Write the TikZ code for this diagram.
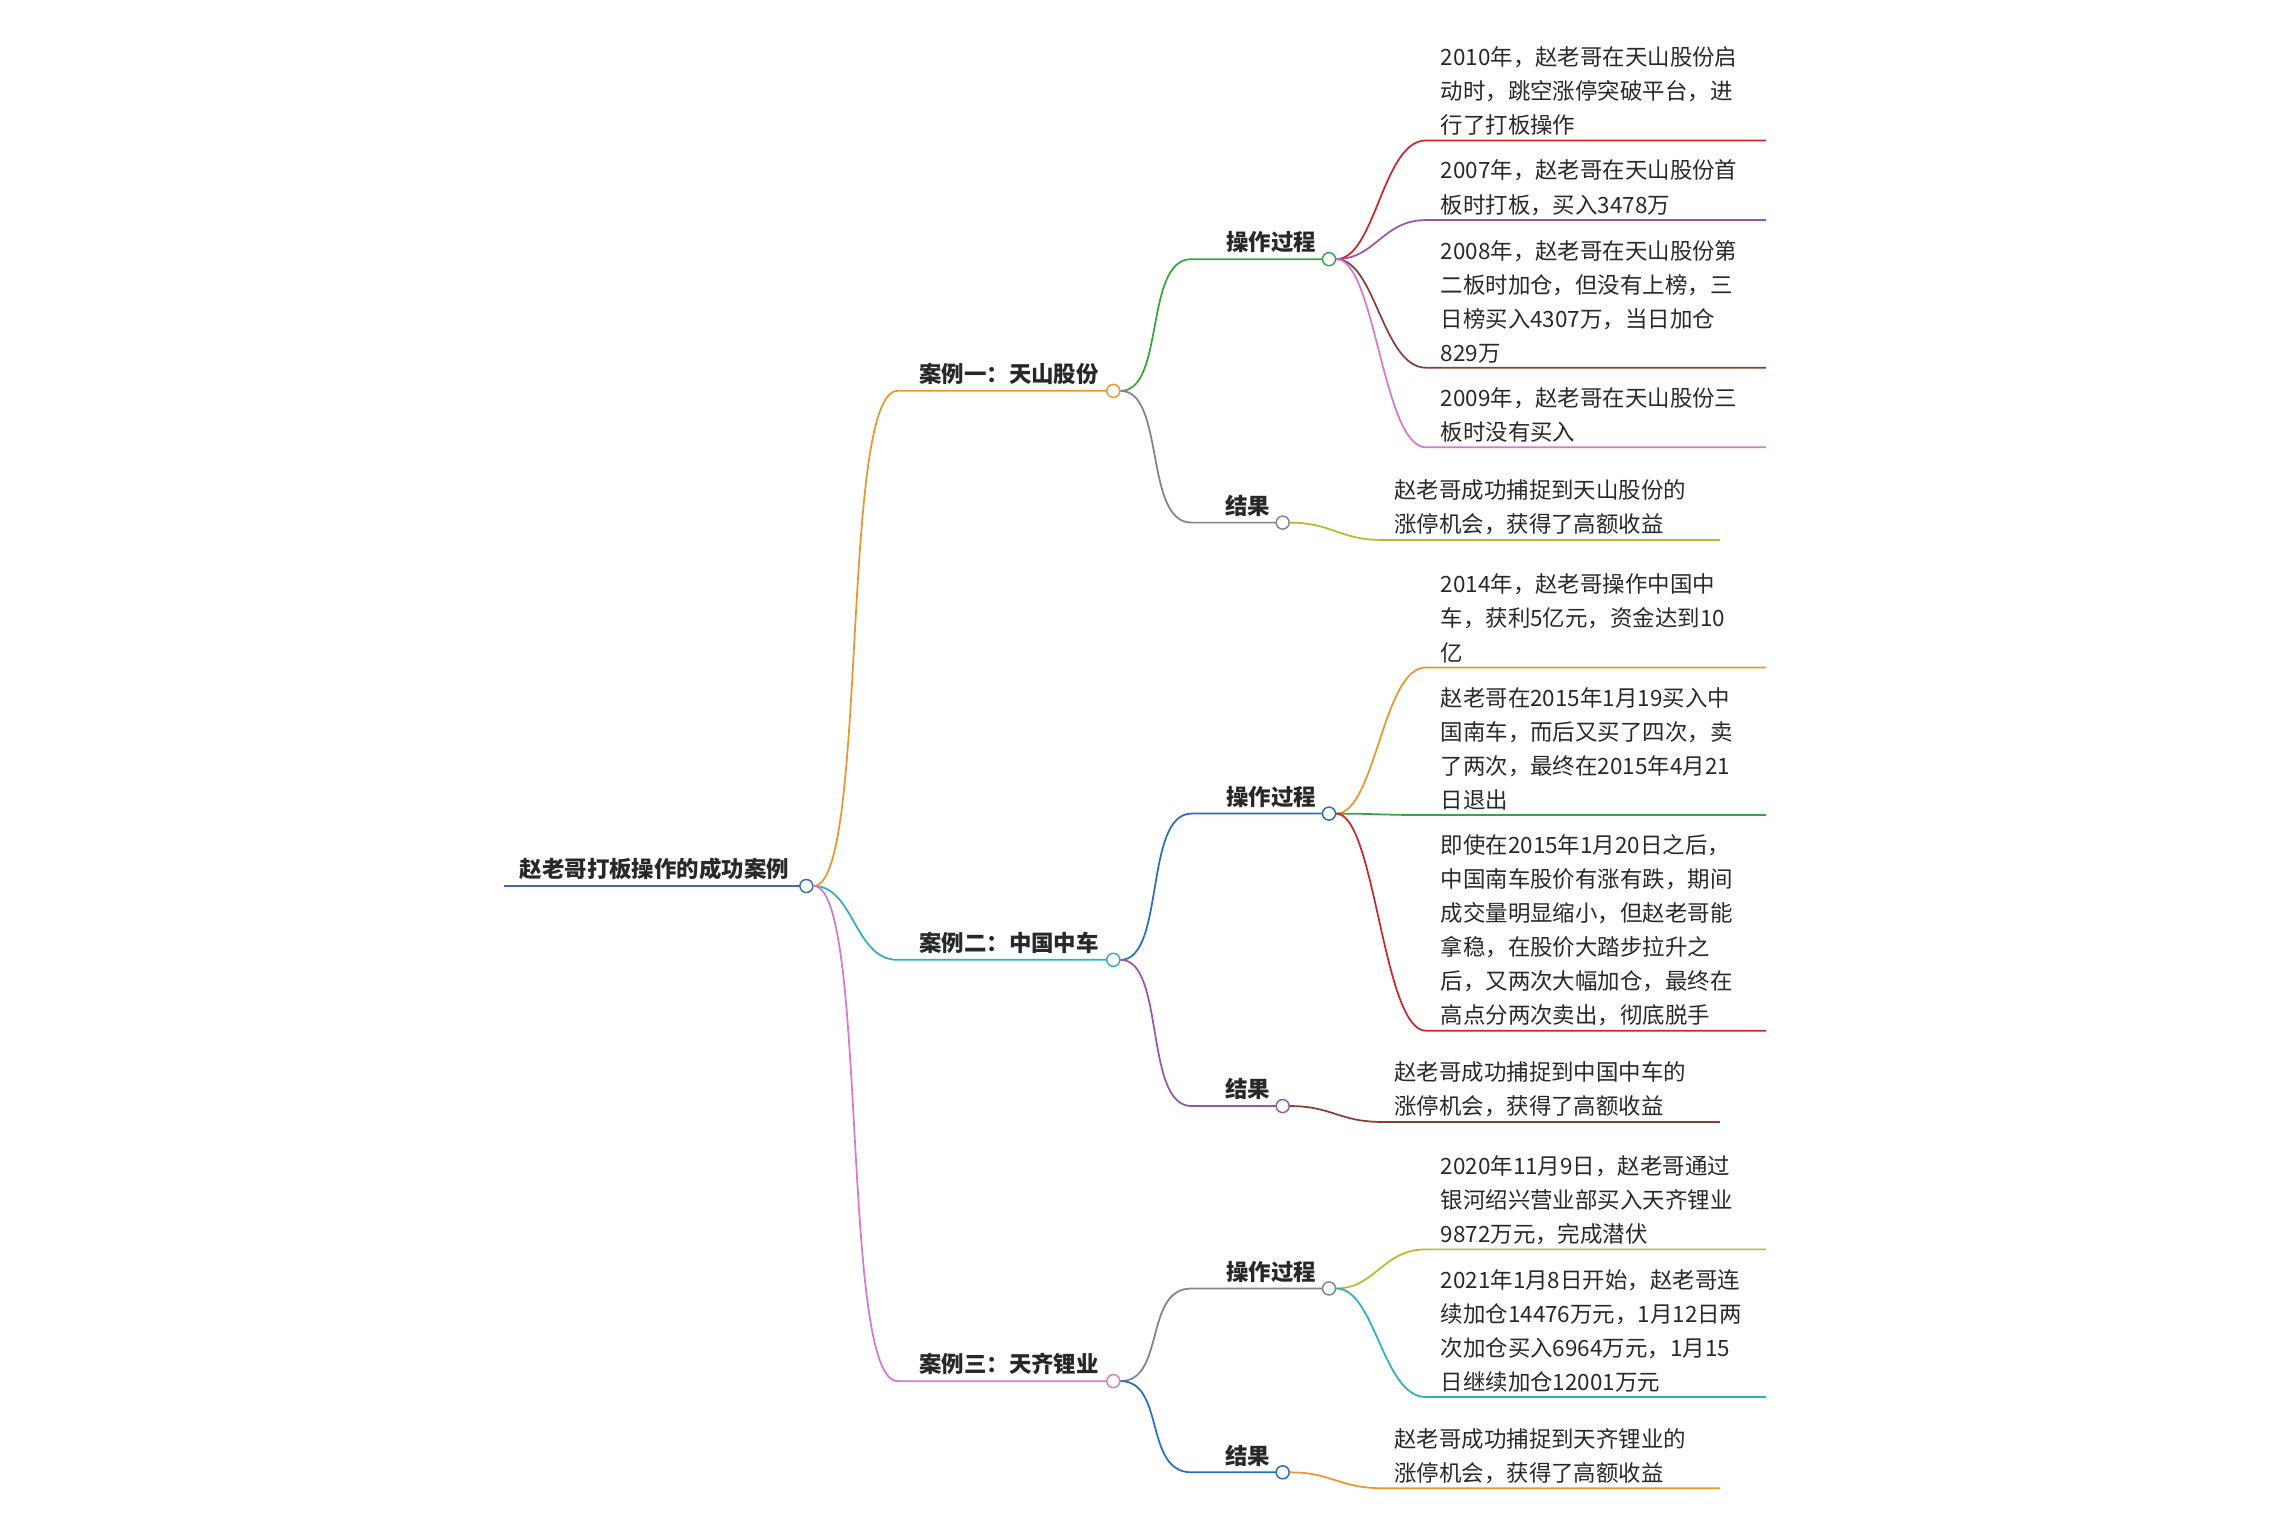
\documentclass[tikz,border=0pt]{standalone}
\usepackage{fontspec}
\setmainfont{Noto Sans CJK SC}
\definecolor{corange}{RGB}{235,150,45}
\definecolor{cteal}{RGB}{45,175,195}
\definecolor{cpink}{RGB}{215,120,205}
\definecolor{cgreen}{RGB}{55,165,60}
\definecolor{cgrey}{RGB}{130,130,140}
\definecolor{cred}{RGB}{200,40,45}
\definecolor{cpurple}{RGB}{150,85,175}
\definecolor{cbrown}{RGB}{140,60,55}
\definecolor{colive}{RGB}{185,185,45}
\definecolor{cblue}{RGB}{40,110,190}
\definecolor{croot}{RGB}{60,110,170}
\definecolor{ctxt}{RGB}{40,40,40}
\tikzset{
  dot/.style={circle,draw,fill=white,inner sep=0pt,minimum size=9pt,line width=1pt},
  leaf/.style={anchor=south west,inner sep=0pt,align=left,text=ctxt,
    font=\fontsize{15.5}{23.5}\selectfont},
  head/.style={anchor=south,inner sep=0pt,text=ctxt,
    font=\fontsize{15.5}{18}\selectfont\bfseries},
  link/.style={line width=1.2pt},
}
\begin{document}
\begin{tikzpicture}[x=1pt,y=-1pt]
\useasboundingbox (0,0) rectangle (1568,1059);

% root
\node[head] (root) at (452,608) {赵老哥打板操作的成功案例};
\draw[link,croot] (348,612) -- (557,612);
\node[dot,draw=croot] (r) at (557,612) {};

% cases
\node[head] (case1) at (697,266) {案例一：天山股份};
\node[head] (case2) at (697,659) {案例二：中国中车};
\node[head] (case3) at (697,950) {案例三：天齐锂业};
\coordinate (c1s) at (620,270); \coordinate (c2s) at (620,663); \coordinate (c3s) at (620,954);
\draw[link,corange] (r) .. controls (600,612) and (580,270) .. (c1s) -- (769,270);
\draw[link,cteal] (r) .. controls (590,612) and (590,663) .. (c2s) -- (769,663);
\draw[link,cpink] (r) .. controls (600,612) and (580,954) .. (c3s) -- (769,954);
\node[dot,draw=corange] (c1) at (769,270) {};
\node[dot,draw=cteal] (c2) at (769,663) {};
\node[dot,draw=cpink] (c3) at (769,954) {};

% sub heads
\node[head] (op1) at (878,175) {操作过程};
\node[head] (res1) at (862,357) {结果};
\node[head] (op2) at (878,558) {操作过程};
\node[head] (res2) at (862,760) {结果};
\node[head] (op3) at (878,886) {操作过程};
\node[head] (res3) at (862,1013) {结果};
\coordinate (o1s) at (823,179); \coordinate (r1s) at (823,361);
\coordinate (o2s) at (823,562); \coordinate (r2s) at (823,764);
\coordinate (o3s) at (823,890); \coordinate (r3s) at (823,1017);
\draw[link,cgreen] (c1) .. controls (805,270) and (790,179) .. (o1s) -- (918,179);
\draw[link,cgrey] (c1) .. controls (805,270) and (790,361) .. (r1s) -- (886,361);
\draw[link,cblue] (c2) .. controls (805,663) and (790,562) .. (o2s) -- (918,562);
\draw[link,cpurple] (c2) .. controls (805,663) and (790,764) .. (r2s) -- (886,764);
\draw[link,cgrey] (c3) .. controls (805,954) and (790,890) .. (o3s) -- (918,890);
\draw[link,cblue] (c3) .. controls (805,954) and (790,1017) .. (r3s) -- (886,1017);
\node[dot,draw=cgreen] (o1) at (918,179) {};
\node[dot,draw=cgrey] (r1) at (886,361) {};
\node[dot,draw=cblue] (o2) at (918,562) {};
\node[dot,draw=cpurple] (r2) at (886,764) {};
\node[dot,draw=cgrey] (o3) at (918,890) {};
\node[dot,draw=cblue] (r3) at (886,1017) {};

% leaves of case 1
\node[leaf] (l11) at (995,94) {2010年，赵老哥在天山股份启\\动时，跳空涨停突破平台，进\\行了打板操作};
\node[leaf] (l12) at (995,149) {2007年，赵老哥在天山股份首\\板时打板，买入3478万};
\node[leaf] (l13) at (995,251) {2008年，赵老哥在天山股份第\\二板时加仓，但没有上榜，三\\日榜买入4307万，当日加仓\\829万};
\node[leaf] (l14) at (995,306) {2009年，赵老哥在天山股份三\\板时没有买入};
\node[leaf] (l15) at (963,370) {赵老哥成功捕捉到天山股份的\\涨停机会，获得了高额收益};
\draw[link,cred] (o1) .. controls (950,179) and (955,97) .. (985,97) -- (1220,97);
\draw[link,cpurple] (o1) .. controls (950,179) and (955,152) .. (985,152) -- (1220,152);
\draw[link,cbrown] (o1) .. controls (950,179) and (955,254) .. (985,254) -- (1220,254);
\draw[link,cpink] (o1) .. controls (950,179) and (955,309) .. (985,309) -- (1220,309);
\draw[link,colive] (r1) .. controls (920,361) and (925,373) .. (955,373) -- (1188,373);

% leaves of case 2
\node[leaf] (l21) at (995,458) {2014年，赵老哥操作中国中\\车，获利5亿元，资金达到10\\亿};
\node[leaf] (l22) at (995,560) {赵老哥在2015年1月19买入中\\国南车，而后又买了四次，卖\\了两次，最终在2015年4月21\\日退出};
\node[leaf] (l23) at (995,709) {即使在2015年1月20日之后，\\中国南车股价有涨有跌，期间\\成交量明显缩小，但赵老哥能\\拿稳，在股价大踏步拉升之\\后，又两次大幅加仓，最终在\\高点分两次卖出，彻底脱手};
\node[leaf] (l24) at (963,772) {赵老哥成功捕捉到中国中车的\\涨停机会，获得了高额收益};
\draw[link,corange] (o2) .. controls (950,562) and (955,461) .. (985,461) -- (1220,461);
\draw[link,cgreen] (o2) .. controls (950,562) and (955,563) .. (985,563) -- (1220,563);
\draw[link,cred] (o2) .. controls (950,562) and (955,712) .. (985,712) -- (1220,712);
\draw[link,cbrown] (r2) .. controls (920,764) and (925,775) .. (955,775) -- (1188,775);

% leaves of case 3
\node[leaf] (l31) at (995,860) {2020年11月9日，赵老哥通过\\银河绍兴营业部买入天齐锂业\\9872万元，完成潜伏};
\node[leaf] (l32) at (995,962) {2021年1月8日开始，赵老哥连\\续加仓14476万元，1月12日两\\次加仓买入6964万元，1月15\\日继续加仓12001万元};
\node[leaf] (l33) at (963,1025) {赵老哥成功捕捉到天齐锂业的\\涨停机会，获得了高额收益};
\draw[link,colive] (o3) .. controls (950,890) and (955,863) .. (985,863) -- (1220,863);
\draw[link,cteal] (o3) .. controls (950,890) and (955,965) .. (985,965) -- (1220,965);
\draw[link,corange] (r3) .. controls (920,1017) and (925,1028) .. (955,1028) -- (1188,1028);
\end{tikzpicture}
\end{document}
